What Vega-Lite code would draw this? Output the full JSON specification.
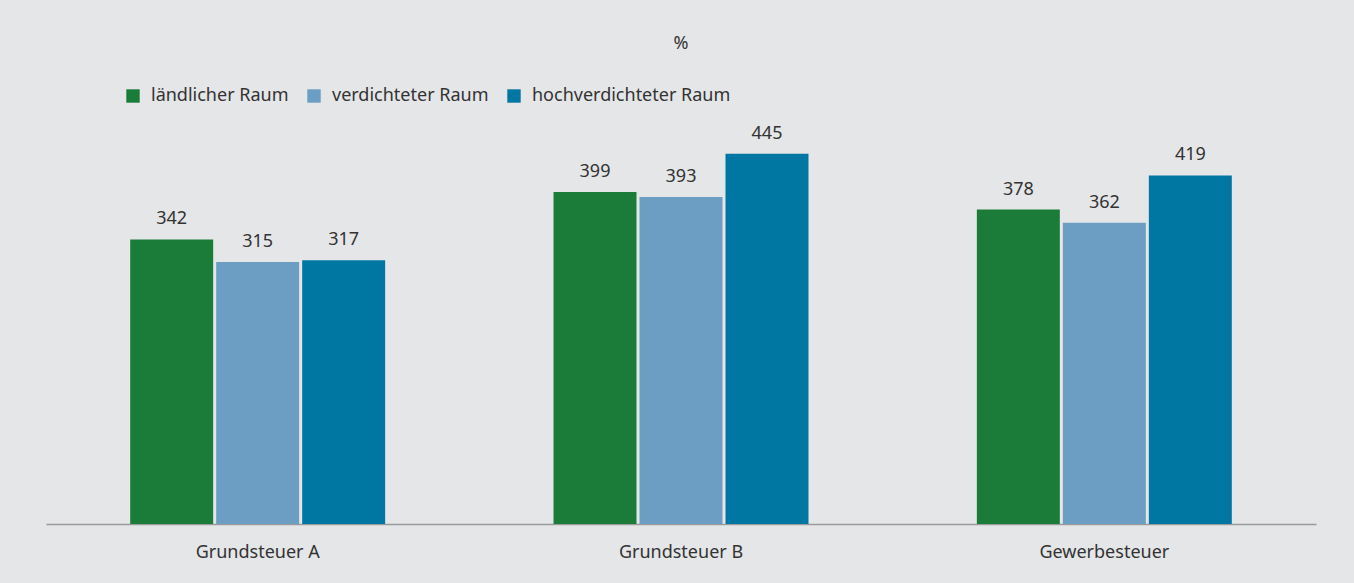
{
  "$schema": "https://vega.github.io/schema/vega-lite/v6.json",
  "width": 1270,
  "height": 416,
  "autosize": {"type": "none"},
  "padding": {"left": 46, "top": 108, "right": 38, "bottom": 59},
  "background": "#e5e6e8",
  "title": {"text": "%", "anchor": "middle", "offset": 34, "fontSize": 18, "fontWeight": "normal", "font": "Noto Sans", "color": "#333333"},
  "data": {"values": [
    {"kat": "Grundsteuer A", "raum": "ländlicher Raum", "wert": 342},
    {"kat": "Grundsteuer A", "raum": "verdichteter Raum", "wert": 315},
    {"kat": "Grundsteuer A", "raum": "hochverdichteter Raum", "wert": 317},
    {"kat": "Grundsteuer B", "raum": "ländlicher Raum", "wert": 399},
    {"kat": "Grundsteuer B", "raum": "verdichteter Raum", "wert": 393},
    {"kat": "Grundsteuer B", "raum": "hochverdichteter Raum", "wert": 445},
    {"kat": "Gewerbesteuer", "raum": "ländlicher Raum", "wert": 378},
    {"kat": "Gewerbesteuer", "raum": "verdichteter Raum", "wert": 362},
    {"kat": "Gewerbesteuer", "raum": "hochverdichteter Raum", "wert": 419}
  ]},
  "encoding": {
    "x": {"field": "kat", "type": "nominal", "sort": null,
      "scale": {"paddingInner": 0, "paddingOuter": 0},
      "axis": {"title": null, "labelAngle": 0, "ticks": false, "domainColor": "#9a9a9a", "domainWidth": 1.5, "labelPadding": 19, "labelFontSize": 18, "labelFont": "Noto Sans", "labelColor": "#333333"}},
    "xOffset": {"field": "raum", "type": "nominal", "sort": ["ländlicher Raum", "verdichteter Raum", "hochverdichteter Raum"],
      "scale": {"paddingInner": 0.035, "paddingOuter": 0.979}},
    "y": {"field": "wert", "type": "quantitative", "scale": {"domain": [0, 500]}, "axis": null}
  },
  "layer": [
    {"mark": {"type": "bar"},
     "encoding": {"color": {"field": "raum", "type": "nominal",
        "sort": ["ländlicher Raum", "verdichteter Raum", "hochverdichteter Raum"],
        "scale": {"domain": ["ländlicher Raum", "verdichteter Raum", "hochverdichteter Raum"], "range": ["#1b7c3a", "#6b9ec2", "#0076a3"]},
        "legend": {"title": null, "orient": "none", "direction": "horizontal", "legendX": 78, "legendY": -21,
          "symbolType": "square", "symbolSize": 180, "symbolStrokeWidth": 0, "symbolOpacity": 1, "labelLimit": 400,
          "labelFontSize": 18, "labelFont": "Noto Sans", "labelColor": "#333333", "labelOffset": 9, "columnPadding": 16}}}},
    {"mark": {"type": "text", "baseline": "bottom", "dy": -11, "fontSize": 18, "font": "Noto Sans", "color": "#333333"},
     "encoding": {"text": {"field": "wert", "type": "quantitative"}}}
  ],
  "config": {"view": {"stroke": null}}
}
